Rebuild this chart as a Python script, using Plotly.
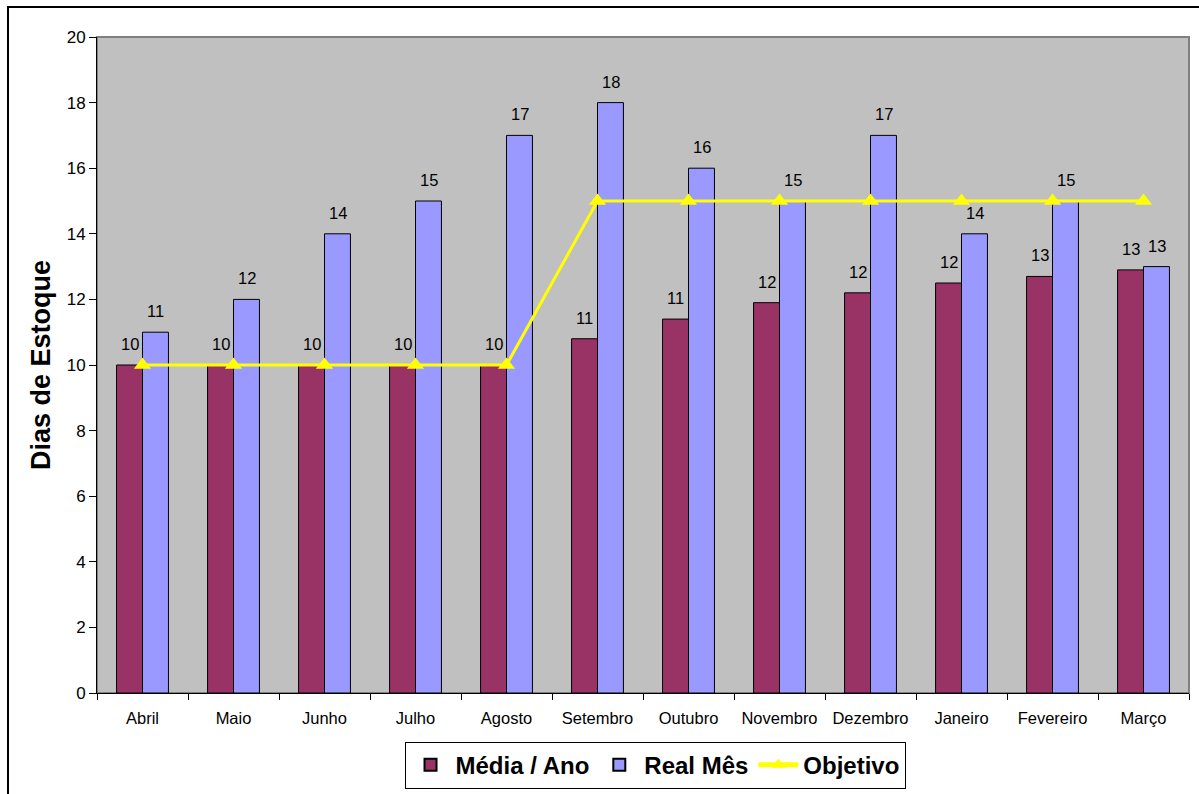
import plotly.graph_objects as go

meses = ["Abril", "Maio", "Junho", "Julho", "Agosto", "Setembro", "Outubro",
         "Novembro", "Dezembro", "Janeiro", "Fevereiro", "Março"]
media_ano = [10, 10, 10, 10, 10, 10.8, 11.4, 11.9, 12.2, 12.5, 12.7, 12.9]
real_mes = [11, 12, 14, 15, 17, 18, 16, 15, 17, 14, 15, 13]
objetivo = [10, 10, 10, 10, 10, 15, 15, 15, 15, 15, 15, 15]
y_ticks = [0, 2, 4, 6, 8, 10, 12, 14, 16, 18, 20]

FONT = "Liberation Sans, Arial, sans-serif"

fig = go.Figure()
fig.add_trace(go.Bar(
    name="Média / Ano", x=meses, y=media_ano,
    marker=dict(color="#993366", line=dict(color="black", width=1)),
))
fig.add_trace(go.Bar(
    name="Real Mês", x=meses, y=real_mes,
    marker=dict(color="#9999FF", line=dict(color="black", width=1)),
))
fig.add_trace(go.Scatter(
    name="Objetivo", x=meses, y=objetivo, mode="lines+markers",
    line=dict(color="#FFFF00", width=3),
    marker=dict(symbol="triangle-up", size=15, color="#FFFF00"),
))

# value labels above each bar, rounded like the data labels
annotations = []
for mes, m, r in zip(meses, media_ano, real_mes):
    for val, dx in ((m, -13), (r, 13)):
        annotations.append(dict(
            x=mes, y=val, xref="x", yref="y", text=f"{round(val):d}",
            showarrow=False, xshift=dx, yshift=10, yanchor="bottom",
            font=dict(family=FONT, size=16.5, color="black"),
        ))

shapes = [
    # grey frame of the plot area
    dict(type="rect", xref="paper", yref="paper", x0=0, y0=0, x1=1, y1=1,
         line=dict(color="#808080", width=2), layer="below"),
    # outer chart border
    dict(type="rect", xref="paper", yref="paper",
         x0=-0.0815, y0=-0.25, x1=1.05, y1=1.0457,
         line=dict(color="black", width=2)),
]

fig.update_layout(
    width=1199, height=794,
    margin=dict(l=97, r=10, t=37, b=101, autoexpand=False),
    paper_bgcolor="white", plot_bgcolor="#C0C0C0",
    barmode="group", bargap=0.43, bargroupgap=0,
    font=dict(family=FONT, color="black"),
    showlegend=True,
    legend=dict(
        orientation="h", x=0.511, xanchor="center", y=-0.074, yanchor="top",
        bordercolor="black", borderwidth=1, bgcolor="white",
        font=dict(family=FONT, size=24, color="black", weight="bold"),
        itemsizing="constant", traceorder="normal", itemwidth=40,
    ),
    annotations=annotations,
    shapes=shapes,
)
fig.update_xaxes(
    type="category", range=[-0.5, len(meses) - 0.5],
    showline=True, linecolor="black", linewidth=1,
    ticks="outside", tickson="boundaries", ticklen=6, tickcolor="black",
    ticklabelstandoff=10,
    tickfont=dict(family=FONT, size=16.5), showgrid=False,
)
fig.update_yaxes(
    range=[0, 20], tickvals=y_ticks, showline=True, linecolor="black",
    linewidth=1, ticks="outside", ticklen=7, tickcolor="black",
    tickfont=dict(family=FONT, size=17), showgrid=False, zeroline=False,
    title=dict(text="Dias de Estoque", standoff=8,
               font=dict(family=FONT, size=27, weight="bold")),
)

fig.write_html("out.html")
